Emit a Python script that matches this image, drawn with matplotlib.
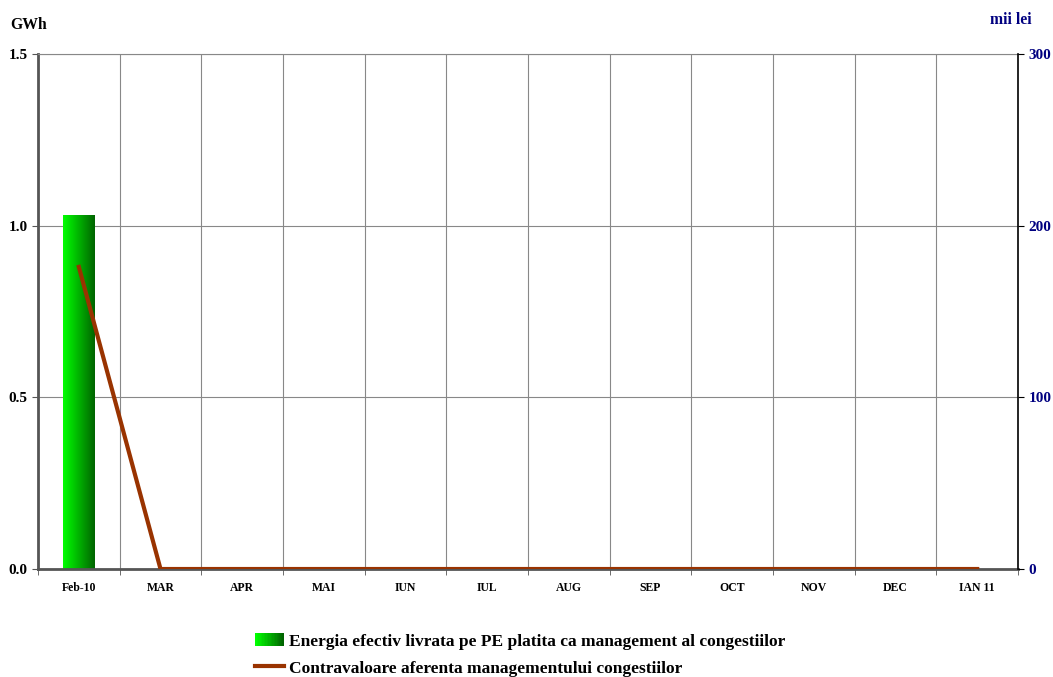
import numpy as np
import matplotlib
matplotlib.use("Agg")
import matplotlib.pyplot as plt
from matplotlib.lines import Line2D
from matplotlib.patches import Rectangle
from matplotlib.legend_handler import HandlerBase
from matplotlib.font_manager import FontProperties

plt.rcParams['font.family'] = ['Liberation Serif', 'DejaVu Serif']

months = ["Feb-10", "MAR", "APR", "MAI", "IUN", "IUL", "AUG", "SEP", "OCT", "NOV", "DEC", "IAN 11"]
energie_gwh = [1.03]          # only Feb-10 has a bar
contravaloare_lei = [176, 0, 0, 0, 0, 0, 0, 0, 0, 0, 0, 0]

cmap = matplotlib.colors.LinearSegmentedColormap.from_list("g", ["#00ff00", "#006400"])


def bold(size):
    return FontProperties(family="Liberation Serif", weight="bold", size=size)


class GradientHandler(HandlerBase):
    def create_artists(self, legend, orig_handle, xdescent, ydescent, width, height, fontsize, trans):
        n = 20
        arts = []
        for i in range(n):
            r = Rectangle((-xdescent + width * i / n, -ydescent), width / n + 0.3, height,
                          facecolor=cmap(i / (n - 1)), edgecolor="none", transform=trans)
            arts.append(r)
        return arts


fig = plt.figure(figsize=(10.53, 6.77), dpi=100)
ax = fig.add_axes([0.0361, 0.1595, 0.9307, 0.7607])
ax2 = ax.twinx()

x = np.arange(len(months))
bar_w = 0.38

# gradient bar (bright green -> dark green)
grad = np.linspace(0, 1, 256).reshape(1, -1)
for xi, val in zip(x, energie_gwh):
    rect = Rectangle((xi - bar_w / 2, 0), bar_w, val, facecolor="none", edgecolor="none")
    ax.add_patch(rect)
    im = ax.imshow(grad, cmap=cmap, aspect="auto",
                   extent=(xi - bar_w / 2, xi + bar_w / 2, 0, val), zorder=2)
    im.set_clip_path(rect)

ax.set_xlim(-0.5, len(months) - 0.5)
ax.set_ylim(0, 1.5)
ax.set_yticks([0, 0.5, 1.0, 1.5])
ax.set_yticklabels(["0.0", "0.5", "1.0", "1.5"], fontproperties=bold(11))
ax.set_xticks(x)
ax.set_xticklabels(months, fontproperties=bold(8.5))
ax.tick_params(axis="x", length=0, pad=9)
ax.set_xticks(np.arange(len(months) + 1) - 0.5, minor=True)
ax.tick_params(axis="x", which="minor", length=4, color="#555555")
ax.grid(axis="x", which="minor", color="#888888", linewidth=0.8)
ax.grid(axis="y", color="#888888", linewidth=0.8)
ax.set_axisbelow(True)
ax.tick_params(axis="y", length=4, color="#555555")
ax.spines["left"].set_color("#555555")
ax.spines["left"].set_linewidth(2)
ax.spines["bottom"].set_color("#555555")
ax.spines["bottom"].set_linewidth(2)
ax.spines["top"].set_color("#888888")
ax.spines["right"].set_visible(False)

ax2.plot(x, contravaloare_lei, color="#993300", linewidth=3, zorder=3)
ax2.set_ylim(0, 300)
ax2.set_yticks([0, 100, 200, 300])
ax2.set_yticklabels(["0", "100", "200", "300"], fontproperties=bold(11), color="#000080")
ax2.tick_params(axis="y", length=4, color="black")
ax2.spines["right"].set_color("black")
ax2.spines["right"].set_linewidth(1.2)
for s in ["left", "top", "bottom"]:
    ax2.spines[s].set_visible(False)

fig.text(0.010, 0.963, "GWh", fontproperties=bold(11.3), ha="left", va="center")
fig.text(0.980, 0.970, "mii lei", fontproperties=bold(11.3), color="#000080", ha="right", va="center")

handles = [Rectangle((0, 0), 1, 1), Line2D([0], [0], color="#993300", linewidth=3)]
labels = ["Energia efectiv livrata pe PE platita ca management al congestiilor",
          "Contravaloare aferenta managementului congestiilor"]
leg = fig.legend(handles, labels, loc="upper left", bbox_to_anchor=(0.2343, 0.078),
                 frameon=False, prop=bold(12.5),
                 handlelength=1.63, handleheight=0.8, handletextpad=0.3, labelspacing=0.6,
                 borderpad=0, handler_map={Rectangle: GradientHandler()})

fig.savefig("out.png", dpi=100)
